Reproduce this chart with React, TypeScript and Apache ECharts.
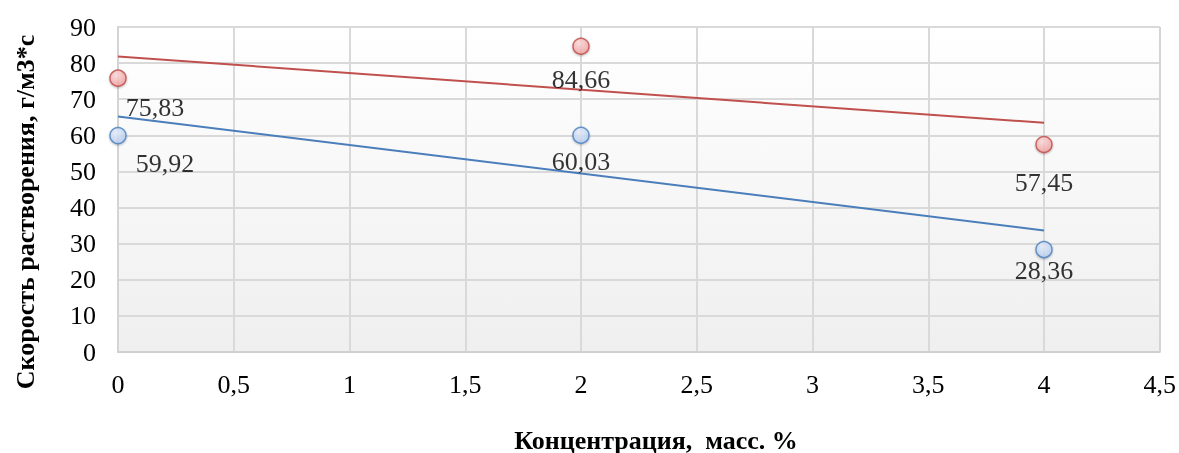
import React, { useEffect, useRef } from "react";
import * as echarts from "echarts";

const xValues = [0, 2, 4];
const redValues = [75.83, 84.66, 57.45];
const blueValues = [59.92, 60.03, 28.36];
const redLabelOffsets = [[37, 29], [0, 33], [0, 38]];
const blueLabelOffsets = [[47, 28], [0, 26], [0, 21]];
const xTitle = "Концентрация,  масс. %";
const yTitle = "Скорость растворения, г/м3*с";

function linearFit(xs: number[], ys: number[]) {
  const n = xs.length;
  const mx = xs.reduce((a, b) => a + b, 0) / n;
  const my = ys.reduce((a, b) => a + b, 0) / n;
  let num = 0;
  let den = 0;
  for (let i = 0; i < n; i++) {
    num += (xs[i] - mx) * (ys[i] - my);
    den += (xs[i] - mx) * (xs[i] - mx);
  }
  const slope = num / den;
  const intercept = my - slope * mx;
  const x0 = xs[0];
  const x1 = xs[n - 1];
  return [
    [x0, intercept + slope * x0],
    [x1, intercept + slope * x1],
  ];
}

const fmt = (v: number) => String(v).replace(".", ",");
const FONT = "'Liberation Serif', 'Times New Roman', serif";

export default function App() {
  const ref = useRef<HTMLDivElement>(null);
  useEffect(() => {
    if (!ref.current) return;
    const chart = echarts.init(ref.current, undefined, { renderer: "svg" });

    const mkPoints = (vals: number[], offs: number[][]) =>
      vals.map((v, i) => ({
        value: [xValues[i], v],
        label: { offset: offs[i] },
      }));

    const markerStyle = (inner: string, outer: string, stroke: string) => ({
      color: new echarts.graphic.RadialGradient(0.4, 0.3, 0.75, [
        { offset: 0, color: inner },
        { offset: 1, color: outer },
      ]),
      borderColor: stroke,
      borderWidth: 1.5,
      shadowColor: "rgba(0,0,0,0.3)",
      shadowBlur: 2,
      shadowOffsetY: 1,
    });

    const labelStyle = {
      show: true,
      position: "inside",
      align: "center",
      verticalAlign: "middle",
      fontFamily: FONT,
      fontSize: 26,
      color: "#000",
      formatter: (p: any) => fmt(p.value[1]),
    };

    chart.setOption({
      animation: false,
      textStyle: { fontFamily: FONT },
      grid: {
        left: 118,
        right: 19,
        top: 27,
        bottom: 101,
        show: true,
        borderWidth: 0,
        backgroundColor: new echarts.graphic.LinearGradient(0, 0, 0, 1, [
          { offset: 0, color: "#ffffff" },
          { offset: 1, color: "#efefef" },
        ]),
      },
      xAxis: {
        type: "value",
        min: 0,
        max: 4.5,
        interval: 0.5,
        axisLine: { show: true, lineStyle: { color: "#cfcfcf", width: 2 } },
        axisTick: { show: false },
        splitLine: { show: true, lineStyle: { color: "#d9d9d9", width: 2 } },
        axisLabel: {
          fontFamily: FONT,
          fontSize: 26,
          color: "#000",
          margin: 19,
          formatter: (v: number) => fmt(v),
        },
      },
      yAxis: {
        type: "value",
        min: 0,
        max: 90,
        interval: 10,
        axisLine: { show: true, lineStyle: { color: "#d4d4d4", width: 2 } },
        axisTick: { show: false },
        splitLine: { show: true, lineStyle: { color: "#d9d9d9", width: 2 } },
        axisLabel: {
          fontFamily: FONT,
          fontSize: 26,
          color: "#000",
          margin: 22,
        },
      },
      graphic: [
        {
          type: "line",
          shape: { x1: 1160, y1: 27, x2: 1160, y2: 352 },
          style: { stroke: "#d4d4d4", lineWidth: 2 },
          z: 1,
        },
        {
          type: "text",
          x: 656,
          y: 440,
          style: {
            text: xTitle,
            font: "bold 26px " + FONT,
            fill: "#000",
            align: "center",
            verticalAlign: "middle",
          },
        },
        {
          type: "text",
          x: 25,
          y: 212,
          rotation: Math.PI / 2,
          style: {
            text: yTitle,
            font: "bold 26px " + FONT,
            fill: "#000",
            align: "center",
            verticalAlign: "middle",
          },
        },
      ],
      series: [
        {
          type: "line",
          data: linearFit(xValues, redValues),
          symbol: "none",
          lineStyle: { color: "#c0504d", width: 2 },
          z: 2,
        },
        {
          type: "line",
          data: linearFit(xValues, blueValues),
          symbol: "none",
          lineStyle: { color: "#4a7ebb", width: 2 },
          z: 2,
        },
        {
          type: "scatter",
          data: mkPoints(redValues, redLabelOffsets),
          symbol: "circle",
          symbolSize: 16,
          itemStyle: markerStyle("#ffdcdc", "#f29b9b", "#be4b48"),
          label: labelStyle,
          z: 3,
        },
        {
          type: "scatter",
          data: mkPoints(blueValues, blueLabelOffsets),
          symbol: "circle",
          symbolSize: 16,
          itemStyle: markerStyle("#e8f0fd", "#b3cbf2", "#4a7ebb"),
          label: labelStyle,
          z: 3,
        },
      ],
    });
    return () => chart.dispose();
  }, []);
  return (
    <div
      ref={ref}
      style={{ position: "fixed", left: 0, top: 0, width: 1179, height: 453 }}
    />
  );
}
